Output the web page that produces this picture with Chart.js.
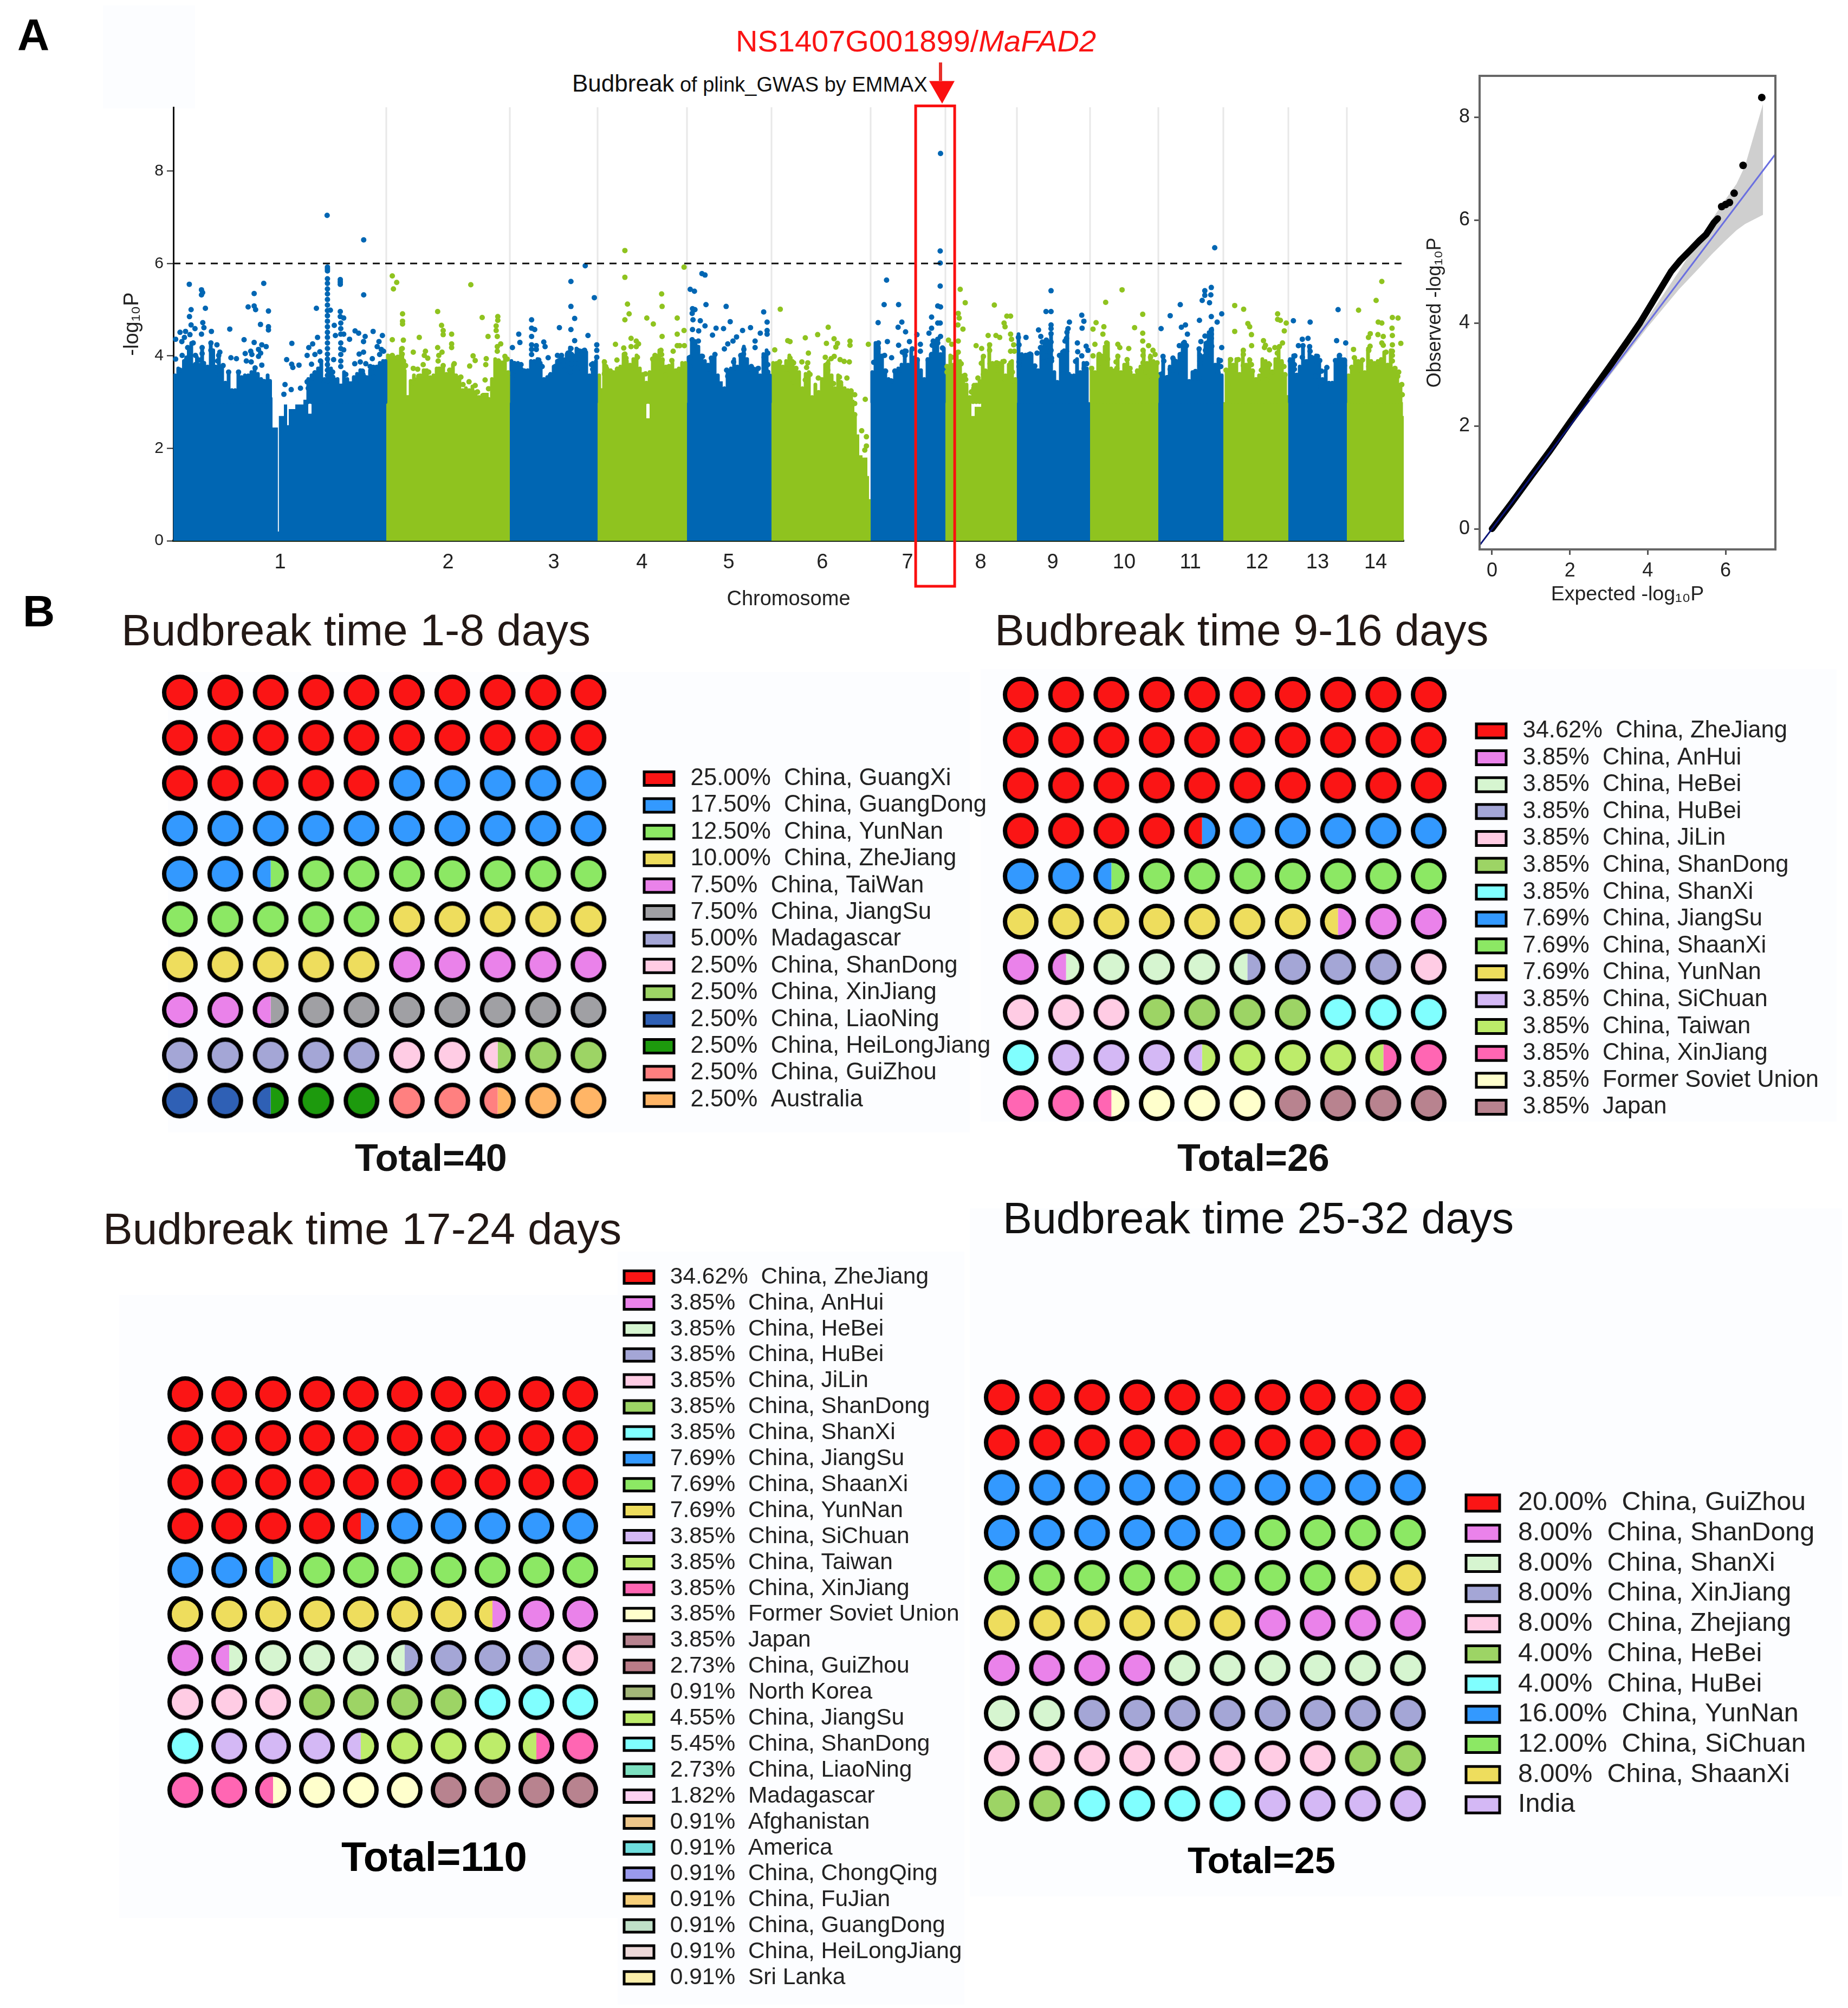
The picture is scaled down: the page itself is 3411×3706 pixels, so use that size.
<!DOCTYPE html>
<html>
<head>
<meta charset="utf-8">
<title>Budbreak GWAS</title>
<script src="https://cdn.jsdelivr.net/npm/chart.js@4"></script>
<style>
  html, body { margin: 0; background: #fff; }
  #page { position: relative; width: 3411px; height: 3706px; overflow: hidden; font-family: 'Liberation Sans', Arial, sans-serif; }
  canvas { position: absolute; }
  .patch { position: absolute; background: #fcfdff; }
  .t { position: absolute; white-space: pre; line-height: 1; color: #231815; }
  .big { font-size: 82px; }
  .head { font-size: 81.5px; }
  .total { font-weight: bold; color: #111; }
</style>
</head>
<body>
<div id="page">
  <div class="patch" style="left:190px;top:10px;width:170px;height:190px"></div>
  <div class="patch" style="left:310px;top:1240px;width:1480px;height:850px"></div>
  <div class="patch" style="left:1810px;top:1235px;width:1580px;height:835px"></div>
  <div class="patch" style="left:220px;top:2390px;width:920px;height:1150px"></div>
  <div class="patch" style="left:1140px;top:2310px;width:640px;height:1390px"></div>
  <div class="patch" style="left:1790px;top:2230px;width:1610px;height:1270px"></div>

  <div class="t big" style="left:32px;top:23px;font-weight:bold;color:#000">A</div>
  <div class="t big" style="left:42px;top:1087px;font-weight:bold;color:#000">B</div>
  <div class="t" style="left:1358px;top:48px;font-size:56px;color:#fa1414">NS1407G001899/<i>MaFAD2</i></div>
  <div class="t" style="left:1056px;top:132px;font-size:38px;color:#111"><span style="font-size:44px">Budbreak</span> of plink_GWAS by <span style="font-size:38px">EMMAX</span></div>

  <div class="t head" style="left:224px;top:1122px;font-size:82px">Budbreak time 1-8 days</div>
  <div class="t head" style="left:1836px;top:1122px;font-size:82px">Budbreak time 9-16 days</div>
  <div class="t head" style="left:190px;top:2227px;font-size:82px">Budbreak time 17-24 days</div>
  <div class="t head" style="left:1851px;top:2208px;font-size:80.8px;color:#111">Budbreak time 25-32 days</div>

  <div class="t total" style="left:655px;top:2102px;font-size:70px">Total=40</div>
  <div class="t total" style="left:2173px;top:2102px;font-size:70px">Total=26</div>
  <div class="t total" style="left:630px;top:3389px;font-size:76px;color:#000">Total=110</div>
  <div class="t total" style="left:2192px;top:3399px;font-size:68px;color:#000">Total=25</div>

  <canvas id="manhattan"></canvas>
  <canvas id="qq"></canvas>
  <canvas id="waffle1"></canvas>
  <canvas id="waffle2"></canvas>
  <canvas id="waffle3"></canvas>
  <canvas id="waffle4"></canvas>
</div>

<script>
// ---- Manhattan data, x is cumulative position along the genome, y is -log10P ----
const chrNames = ['1','2','3','4','5','6','7','8','9','10','11','12','13','14'];
const chrEnds = [131,207,261,316,368,429,475,519,564,606,646,686,722,757];
const chrCentres = [65.7,169,234,288.3,341.7,399.3,451.7,496.7,541,585,625.7,666.7,704,739.7];
const yTicks = [0,2,4,6,8];
const threshold = 6;

// top of the solid mass in each chromosome: x,y,x,y...
const top1 = [0,3.55, 6,3.3, 7,3.4, 10,3.35, 14,3.45, 18,3.45, 22,3.35, 25,3.4, 30,3.15, 32,3.1, 36,3.05, 40,3.3, 44,3.3, 48,3.45, 52,3.5, 56,3.45, 58,3.3, 60,3.1, 61,2.45, 64.3,0.2, 64.9,2.7, 68,2.95, 70,2.5, 71,2.85, 75,2.95, 80,3.05, 83,2.75, 85,3.1, 88,3.25, 92,3.3, 94,3.9, 96,3.4, 100,3.4, 105,3.45, 110,3.2, 115,3.4, 120,3.3, 125,3.45, 128,3.75];
const top2 = [131,3.5, 133,3.8, 137,3.7, 140,4, 142,3.7, 143.5,3.15, 145,3.2, 148,3.35, 152,3.55, 156,3.45, 160,3.6, 164,3.45, 167,3.55, 170,3.7, 173,3.5, 176,3.15, 180,3.2, 183,3.05, 187,3.1, 190,3.2, 194,3.05, 197,3.6, 200,3.9, 204,3.6];
const top3 = [207,3.5, 210,3.35, 213,3.35, 216,3.55, 220,3.6, 223,3.55, 226,3.3, 230,3.4, 233,3.35, 236,3.55, 240,3.6, 243,3.55, 246,3.55, 249,3.4, 253,3.4, 257,3.35, 260,3.7];
const top4 = [261,3.3, 265,3.1, 270,3.15, 275,3.3, 280,3.4, 284,3.45, 287,3.2, 290,3, 291,2.65, 293,3.35, 297,3.45, 300,3.5, 304,3.3, 308,3.2, 312,3.25];
const top5 = [316,3.3, 319,3.7, 322,3.85, 325,3.6, 328,3.35, 332,3.55, 335,3.45, 338,3.05, 340,3.2, 344,3.4, 348,3.4, 352,3.35, 356,3.2, 358,3.15, 362,3.3, 365,3.55];
const top6 = [368,3.1, 372,3.1, 376,3.25, 380,3.3, 384,3.15, 387,3, 392,3, 396,3.1, 400,3.15, 404,3.15, 407,3, 410,3.2, 414,3.2, 418,3.05, 419,2.7, 420.5,2.3, 422,1.85, 424,1.8, 427,1.4, 428,0.9];
const top7 = [429,3.5, 433,3.45, 437,3.3, 440,3.05, 444,3.15, 447,3.45, 451,3.4, 454,3.35, 456,3.55, 459,3.6, 461,3.15, 463,3.4, 466,3.55, 470,3.7, 473,3.65];
const top8 = [475,3, 480,3.4, 483,3.6, 486,3.25, 489,3, 491,2.7, 493,2.9, 497,3.2, 500,3.45, 504,3.55, 507,3.45, 510,3.35, 513,3.1, 516,3.2];
const top9 = [519,3.55, 523,3.65, 527,3.6, 530,3.25, 532,3.35, 535,3.5, 539,3.65, 541,3.6, 543,3.05, 545,3.3, 548,3.85, 550,3.65, 552,3.35, 556,3.4, 560,3.4, 563,3];
const top10 = [564,3.15, 568,3.3, 571,3.5, 575,3.45, 578,3.35, 581,3.35, 584,3.25, 587,3.25, 590,3.2, 593,3.25, 596,3.4, 600,3.2, 603,3.1];
const top11 = [606,3.35, 610,3.2, 614,3.4, 618,3.4, 621,3.3, 625,3, 628,3.1, 631,3.3, 634,3.55, 638,3.8, 641,3.4, 644,3.4];
const top12 = [646,3, 650,3.1, 653,3.25, 657,3.5, 662,3.55, 664,3.3, 667,3.1, 670,3.15, 674,3.05, 678,3.3, 681,3.15, 684,3.15];
const top13 = [686,3.1, 690,3.35, 693,3.4, 696,3.65, 700,3.55, 702,3.05, 704,3, 706,3, 708,3.25, 712,3.3, 716,3.2, 718,3.2, 720,3.4];
const top14 = [722,3.15, 726,3.3, 730,3.4, 734,3.35, 738,3.6, 742,3.55, 746,3.4, 750,3.65, 753,3.15, 755,3, 756.5,2.7];

// columns of overlapping SNPs rising out of the mass, read across each chromosome: x,top,x,top...
const teeth1 = [1,3.58,3,3.73,5,3.65,6.5,3.89,8,3.97,9.5,4.16,11,4.28,13,3.77,14.5,3.97,16,3.81,17.7,4.18,19,3.85,21,3.77,23,4.28,24.5,4.12,26,3.77,28,4.05,30,3.77,32,3.42,34,3.65,36,3.26,38,3.26,40,3.65,42,3.54,44,3.58,46,3.58,48,3.65,50,3.73,52,3.61,54,3.5,56,3.46,58,3.58,59.5,3.46,83,3.5,85,3.58,87,3.65,89,3.73,91,3.89,93,3.5,97,3.73,99,3.5,101,3.5,105,3.65,107,3.5,109,3.38,111,3.54,113,3.61,115,3.69,117,3.61,119,3.54,121,3.69,123,3.77,125,3.77,127,3.85,129,3.89,130.5,3.89];
const teeth2 = [132,4.01,134,4.01,136,3.97,138,3.93,140,4.16,142,3.89,146,3.46,148,3.58,150,3.5,152,3.58,154,3.69,156,3.69,158,3.54,160,3.58,162,3.73,164,3.73,166,3.77,168,3.61,170,3.69,172,3.81,174,3.58,176,3.54,178,3.26,180,3.3,182,3.26,184,3.34,186,3.22,188,3.11,190,3.15,192,3.15,194,3.07,196,3.5,198,3.93,200,3.89,202,3.81,204,3.93,206,3.65];
const teeth3 = [208,3.89,210,3.85,212,3.85,214,3.69,216,3.69,218,3.69,220,3.89,222,3.89,224,3.93,226,3.85,228,3.5,230,3.54,232,3.61,234,3.77,236,3.89,238,3.97,240,3.93,242,4.04,244,4.18,246,4.01,248,4.16,250,4.12,252,4.12,254,4.08,256,3.58,258,3.85,260,3.89];
const teeth4 = [262,3.58,265,3.89,267,3.73,269,3.69,271,3.65,273,3.73,275,3.77,277,4.04,279,3.89,281,3.81,283,3.93,285,4.01,287,3.73,289,3.61,291,3.42,293,3.65,295,3.93,297,4.01,299,4.12,301,3.93,303,3.77,305,3.77,307,3.85,309,3.69,311,3.73,313,3.85,315,3.85];
const teeth5 = [317,3.97,319,4.32,321,4.32,323,4.2,325,4.01,327,3.89,329,3.81,331,3.93,333,4.01,335,3.58,337,3.3,339,3.3,341,3.69,343,3.73,345,3.93,347,3.77,349,3.97,351,4.2,353,3.93,355,3.77,357,3.73,359,3.73,361,3.58,363,4.04,365,4.12,367,3.58];
const teeth6 = [369,3.85,371,3.85,373,3.89,375,3.77,377,3.89,379,4.01,381,3.89,383,3.73,385,3.65,387,3.3,389,3.61,391,3.65,393,3.11,395,3.38,397,3.22,399,3.5,401,3.81,403,3.89,405,3.58,407,3.3,409,3.58,411,3.38,413,3.3,415,3.26,417,3.26];
const teeth7 = [430,3.65,432,4.28,434,4.2,436,4.01,438,3.69,440,3.5,442,3.46,444,3.69,446,3.73,448,3.81,450,4.12,452,3.81,454,4.12,456,3.97,458,3.93,460,3.69,462,3.5,464,3.93,466,4.01,468,4.28,470,4.36,472,4.04,474,4.16];
const teeth8 = [476,3.77,478,4.01,480,3.81,482,4.08,484,3.89,486,3.58,488,3.38,490,3.11,492,3.3,494,3.38,496,3.46,498,3.97,500,3.65,502,4.2,504,3.85,506,3.85,508,3.85,510,3.89,512,3.58,514,3.81,516,3.89,518,3.5];
const teeth9 = [520,4.47,522,4.04,524,4.01,526,4.04,528,4.04,530,3.77,532,3.69,534,4.2,536,4.28,538,4.32,540,4.47,542,3.65,544,3.42,546,4.01,548,4.12,550,4.59,552,3.58,554,3.58,556,3.93,558,3.65,560,3.85,562,3.73];
const teeth10 = [565,3.69,567,3.65,569,4.01,571,4.01,573,4.2,575,4.28,577,3.73,579,3.69,581,4.01,583,3.65,585,3.81,587,3.85,589,3.65,591,3.58,593,3.69,595,3.77,597,4.12,599,3.85,601,4.01,603,3.89,605,3.85];
const teeth11 = [607,3.61,609,3.97,611,3.54,613,3.77,615,3.97,617,3.89,619,4.04,621,4.28,623,4.24,625,3.46,627,3.65,629,3.65,631,4.16,633,3.97,635,4.28,637,4.51,639,4.59,641,3.81,643,3.93,645,3.58];
const teeth12 = [648,3.69,650,3.93,652,3.81,654,3.93,656,3.61,658,4.12,660,3.81,662,3.93,664,3.69,666,3.5,668,3.58,670,3.93,672,3.89,674,3.85,676,3.65,678,3.93,680,4.2,682,3.89,684,3.61];
const teeth13 = [687,3.93,689,4.01,691,3.58,693,3.77,695,4.22,697,3.89,699,4.2,701,3.97,703,4.01,705,3.89,707,3.5,709,3.69,711,3.42,713,3.42,715,3.89,717,4.01,719,3.93,721,3.89];
const teeth14 = [723,3.58,725,3.77,727,3.97,729,3.89,731,3.89,733,3.65,735,4.16,737,3.89,739,3.85,741,3.89,743,3.93,745,4.08,747,3.81,749,4.12,751,3.73,753,3.65,755,3.38];

// single SNPs above the solid mass: x,y,x,y...
const dots1 = [9.8,5.55,17.3,5.43,18,5.37,17.3,5.32,10.9,5,19.7,5.03,9.9,4.85,18.1,4.72,10.9,4.67,18.8,4.61,13.3,4.59,23.4,4.53,17.3,4.47,4.1,4.51,7.5,4.53,1.4,4.36,5.2,4.31,10.2,4.46,6.8,4.4,34.7,4.58,43.5,4.35,49.7,5.35,55.6,5.57,46,5.06,49.7,5.08,50.6,5,58.5,4.97,53.6,4.68,58.5,4.63,58.5,4.56,49.7,4.29,54.4,4.24,57.1,4.2,52.4,4.14,44.2,4.05,47.6,4.1,48.3,4.03,53.7,4.06,52.4,3.99,35.4,3.96,38.8,3.94,44.9,3.89,47.9,3.87,54.4,3.8,50.3,3.74,34,3.65,40.1,3.65,23.1,4.28,26.8,4.24,12.2,4.28,8.8,4.18,17.7,4.18,23.1,4.12,28.6,4.08,5.4,4.01,13.6,4.01,17.7,4.05,27.9,4.01,23.8,3.93,8.2,3.93,1.4,3.93,16.3,3.91,27.2,3.89,30.6,3.79,4.1,3.69,24.5,3.77,10.9,3.77,20.4,3.73,13.6,3.81,28.6,3.58,68.7,3.38,72.5,3.27,78.2,3.3,68,3.17,69.7,3.92,72.8,3.82,73.5,3.75,77.3,3.8,72.9,4.27,83.3,4.18,85.7,4.26,88.7,4.4,88,5.03,82.3,4.01,87.1,4.03,90.1,4.09,85,3.82,90.5,3.89,89.8,3.71,87.1,3.63,82.3,3.44,90.5,3.49,86.4,3.52,83,3.3,94.6,7.04,94.8,5.92,94.8,5.88,94.8,5.84,94.8,5.67,94.8,5.57,94.8,5.45,94.8,5.34,94.8,5.22,94.8,5.1,94.8,4.98,94.8,4.87,94.8,4.75,94.8,4.63,94.8,4.51,94.8,4.4,94.8,4.28,94.8,4.16,94.8,4.04,94.8,3.93,94.8,3.81,94.8,3.69,94.8,3.58,94.8,3.46,117.1,6.51,117.1,5.32,102.7,5.65,102.7,5.6,102.7,5.55,102.7,4.96,102.7,4.85,104.8,4.82,96.6,4.99,99,4.66,103,4.71,103,4.59,103,4.47,99.7,4.44,104.8,4.47,108.4,4.36,111.8,4.54,114,4.49,118,4.42,117,4.31,122.9,4.53,128.6,4.44,126.5,4.31,125.4,4.2,127.9,4.14,129.3,4.1,103,4.28,103,4.16,104.8,4.13,103,4.03,117,4.08,114.3,4.04,126.9,4.03,122.4,3.94,98.6,3.92,103,3.89,115,3.87,111.6,3.83,118.4,3.83,121.1,3.77,103,3.77,98,3.65,116.3,3.67,123.1,3.75,127.2,3.79,106.1,3.6,111.6,3.52,117,3.56,119.7,3.48,123.1,3.54,106.1,3.42,112.2,3.4,98,3.54];
const dots2 = [134.7,5.73,137.4,5.59,135.4,5.45,183,5.54,162.6,4.96,141,4.91,141,4.75,141,4.69,190,4.83,199.6,4.85,199.6,4.77,165,4.66,166,4.55,166,4.46,198.6,4.65,198.6,4.55,171.2,4.47,193.6,4.42,199.3,4.42,151.3,4.4,134.7,4.35,141.5,4.34,171.2,4.26,171.2,4.18,201.4,4.26,199.3,4.2,199.3,4.1,162.6,4.18,147.6,4.08,155.1,4.1,154.4,4.01,156.5,3.95,165.3,4.08,163.3,4.01,162.9,3.89,184.4,4,185.7,3.9,192.5,3.94,192.2,3.81,182.3,3.78,172.8,3.83,153.7,3.81,147.6,3.73,150.3,3.71,155.1,3.67,157.1,3.65,166,3.79,163.3,3.71,191.8,3.48,181.9,3.44,176.9,3.54,178.2,3.38,193.9,3.29,187.1,3.22,185.7,3.36,191.8,3.14,204,3.99,140.8,4.16,140.8,4.04,134.7,4.01,138.1,3.97,141.5,3.89,142.9,3.79,200,3.89,202.7,3.81,205.4,3.93,147.6,3.42,151,3.56,155,3.58,159.2,3.5,166,3.58,170,3.69,172.1,3.58];
const dots3 = [253.4,5.95,244.6,5.61,259,5.26,244.6,5.07,220.4,4.78,246.9,4.81,220.4,4.6,222.3,4.57,237.5,4.61,244.6,4.57,212.5,4.47,220.4,4.42,255.1,4.44,213.2,4.29,246.9,4.33,208.6,4.18,227.9,4.3,228.7,4.2,220.4,4.24,223.3,4.22,220.4,4.14,223.3,4.14,220.4,4.03,260.5,4.24,260.5,4.12,260.5,3.97,230.6,3.96,236.3,4.01,238.8,4.01,244.6,4.16,242.8,4.06,248.6,4.12,253,4.12,253.2,4.03,245,4.03,248.6,3.93,240,3.89,237,3.89,224.8,3.91,221.2,3.81,226.9,3.77,209.6,3.83,213.9,3.81,234.9,3.77,245,3.83,249.3,3.83,257.3,3.81,251.5,3.69,258,3.71,232,3.58,240.7,3.69,213.9,3.71,208.9,3.58,244.3,3.65];
const dots4 = [277.8,6.28,277.8,5.7,314.2,5.92,300.4,5.34,279.4,5.12,300.7,5.07,280.4,4.91,277.8,4.78,291.3,4.82,295.3,4.69,310,4.82,314.2,4.55,310,4.47,300.7,4.42,281.6,4.38,284.8,4.32,286.2,4.26,272,4.25,281.6,4.2,284.8,4.2,277.1,4.17,310,4.22,314.4,4.22,311.5,4.22,307.5,4.1,300,4.12,300.4,4.03,296.3,4.01,277.8,4.04,278.5,3.95,285.5,3.97,272.9,3.91,265.2,3.87,266,3.77,300.7,3.91,306.7,3.9,294.9,3.93,268.9,3.67,265.2,3.61,273.2,3.71,277.5,3.81,281.9,3.73,290.5,3.61,297.8,3.73,305,3.77,310.8,3.69,314.4,3.79,302.8,3.58];
const dots5 = [325.2,5.78,327.1,5.75,318,5.44,320.6,5.4,327.7,5.11,340.1,5.07,319.4,5.02,320.9,5,319.2,4.92,363.2,4.95,319.7,4.78,324.2,4.76,342.6,4.74,365.3,4.73,327.1,4.65,333.9,4.6,338.5,4.59,355.1,4.61,319.4,4.57,323.2,4.54,350.2,4.55,365.3,4.55,365.3,4.47,361.1,4.49,331.7,4.45,346.5,4.41,344.3,4.32,341.1,4.26,339,4.15,357.9,4.32,357.9,4.18,319.2,4.35,323,4.32,320.9,4.24,322.4,4.12,351,4.14,350.8,4.04,333.2,4.03,331,3.95,325.5,3.99,318,3.97,349.1,4.01,365.7,4.06,363.5,3.97,344.7,3.87,352,3.91,330.3,3.77,355.6,3.77,359.9,3.73,365.7,3.81,340.4,3.69,345.5,3.75,351.2,3.81,365.7,3.65,329.6,3.61,362.1,3.54,341.1,3.56,326,3.79,318,3.77,354.1,3.61];
const dots6 = [373.4,5.01,402.9,4.62,396.4,4.46,388.8,4.39,378,4.33,379.4,4.31,406.5,4.37,401.8,4.27,408.6,4.27,407.6,4.19,416.3,4.32,416.3,4.23,427.6,4.25,370,4.13,390.7,4.06,401.1,3.97,406.6,3.99,404.7,3.94,379.4,3.95,410.2,3.92,412.7,3.88,415.9,3.87,381.6,3.85,386.7,3.87,390.3,3.85,373,3.87,370.8,3.79,402.6,3.83,383,3.73,389.6,3.75,377.3,3.71,402.6,3.69,371.5,3.56,378,3.61,391.7,3.6,396.8,3.52,409.8,3.54,414.4,3.52,388.8,3.48,410.5,3.42,401.1,3.5,406.2,3.4,381.6,3.44,417,3.24,419.2,3.16,419.2,2.97,419.2,2.73,425.7,3.06,423.5,2.38,426.4,2.25,426.4,2.05,425.4,1.96];
const dots7 = [472,8.38,471.8,6.27,471.8,6.01,471.8,5.51,470.3,5.08,472,5.06,466.5,4.84,470.3,4.71,471.8,4.71,466.5,4.6,464.9,4.49,472,4.42,470.3,4.36,438.8,5.64,437.3,5.11,446.2,5.11,433.6,4.72,448.2,4.73,445.9,4.62,450.5,4.52,457.5,4.46,439.3,4.31,433.8,4.28,446.2,4.23,452.9,4.31,433.6,4.16,433.6,4.01,437.6,4.01,441.9,3.96,448.5,4.08,450.8,4.1,450.2,4.01,454.6,4.15,459.6,4.25,459.6,4.1,454.8,3.91,457.7,3.91,464.4,3.91,430.9,3.86,434.3,3.77,453.3,3.76,448.9,3.77,443.9,3.67,438.2,3.67,447.9,3.69,430.7,3.61,466.5,4.03,466.9,4.23,467.5,4.32,470.3,4.28,473.2,4.17,441.6,3.46];
const dots8 = [484.1,5.44,487.2,5.15,505.1,5.1,482.9,4.92,483.5,4.82,512.8,4.86,515.1,4.86,482.7,4.67,511.1,4.71,511.7,4.63,485.8,4.58,501.3,4.44,506.1,4.44,508.4,4.4,515.1,4.47,515.7,4.36,476.9,4.34,482.9,4.32,478.9,4.25,493.9,4.22,497.3,4.16,502.2,4.24,502.2,4.12,517,4.24,482.9,4.08,515.1,4.1,517.4,4.1,498.4,3.99,478.9,3.97,511.1,3.88,497.1,3.84,484.7,3.83,502.5,3.83,506.5,3.85,515.3,3.85,482.9,3.77,478.9,3.73,476,3.77,476,3.65,499.6,3.67,509.4,3.77,516.2,3.65,487,3.58,487.5,3.49,495,3.52,511.4,3.5,516.8,3.46,477.2,3.5,492.7,3.36,491,3.22,507,3.69,498.4,3.6];
const dots9 = [540,5.41,536.9,4.96,540,4.96,558.9,4.88,551.3,4.73,560.2,4.75,540,4.67,540,4.59,550.5,4.59,559.1,4.6,532.3,4.56,540,4.48,549.8,4.51,524.6,4.4,533.7,4.42,519.9,4.4,549.5,4.38,548.6,4.32,520.3,4.24,537.1,4.34,540,4.3,534.6,4.3,556.2,4.28,561.6,4.21,533.5,4.18,536.9,4.15,540,4.12,549.5,4.1,547.2,4.08,556.4,4.09,562.7,4.12,531.4,4.06,527.1,4.04,524.3,4.01,521.4,3.99,537.1,4,540.3,3.95,545.2,4.01,558.9,4,520.3,3.87,535.5,3.87,540.3,3.89,555.1,3.88,561.9,3.83,520.3,3.77,530,3.78,547.2,3.79,560.4,3.73,547.2,3.61,543.8,3.42];
const dots10 = [583.7,5.43,573.6,5.16,596.4,4.9,567.7,4.72,572.5,4.63,565.8,4.58,591.4,4.61,596.4,4.49,571.9,4.47,567,4.25,596.4,4.32,581.1,4.25,582.3,4.18,587.8,4.16,600,4.22,574.2,4.28,602.7,4.12,596.6,4.12,604,4.03,565.8,4,569.6,4.03,581.1,3.99,586.8,3.92,596.6,4.01,601.2,3.97,574.8,3.93,580,3.87,570.2,3.85,585.7,3.79,596.6,3.85,599.5,3.79,605.2,3.85,565,3.73,580.5,3.73,588.6,3.73,593.2,3.67,598.3,3.65,584,3.61,568,3.61,605.2,3.56,601.8,3.48];
const dots11 = [640.7,6.34,638.6,5.48,634.6,5.41,638.3,5.32,634.6,5.31,633,5.2,637.5,5.15,619.5,5.11,613.3,4.87,645,4.91,638.6,4.85,631.3,4.77,642.2,4.73,622.7,4.67,620.2,4.62,607.7,4.59,638.6,4.56,638.6,4.47,623.9,4.47,634.7,4.43,638.6,4.38,632.2,4.31,636.1,4.28,622,4.29,618.9,4.22,623.3,4.22,621.6,4.16,638.9,4.21,645,4.18,631.1,4.15,635,4.12,619.7,4.03,608.9,3.99,615,3.95,621.1,3.93,631.6,4.01,638.3,4.01,634.4,3.99,609.4,3.89,616.1,3.89,644.2,3.9,631.6,3.89,619.7,3.77,642.2,3.79,644.4,3.77,631.6,3.79,613.3,3.71,615,3.69,622,3.67,628.9,3.66,608.3,3.61,642.8,3.63,620,3.61,611.6,3.53,631.1,3.52,628.3,3.42];
const dots12 = [653,5.09,658.5,5.01,679.4,4.91,661.1,4.7,662.2,4.63,679.4,4.79,681.1,4.77,684.7,4.71,653,4.53,683.5,4.54,663.3,4.46,670.7,4.33,682.4,4.28,663.4,4.22,671.9,4.23,671.3,4.18,677.7,4.18,680.5,4.2,674.4,4.13,679.2,4.06,658.3,4.12,658.3,4.03,650.5,3.92,655.2,3.92,662.2,3.91,671.1,3.86,678.9,3.89,681.6,3.85,674.4,3.81,652.2,3.79,658.3,3.79,663.3,3.81,683.3,3.77,647.7,3.69,663.9,3.67,669.4,3.69,653.3,3.61,670,3.58,676.1,3.65,683.9,3.59,667.2,3.48,672.7,3.48,648.9,3.38,683.3,3.48];
const dots13 = [716.6,5,689.1,4.76,699.4,4.73,694.6,4.36,698.1,4.38,715.7,4.33,721.3,4.28,692.2,4.22,695,4.22,699.1,4.2,699.4,4.1,690,4,694.6,3.97,700,3.97,703.9,3.99,717.5,4.01,687.2,3.89,697.8,3.87,701.1,3.89,705.3,3.9,715,3.9,720.5,3.91,689.7,3.81,709.7,3.75,717.7,3.74,720.5,3.79,689.7,3.71,706.4,3.67,720,3.61,691.1,3.58,702.7,3.56,706.6,3.44,706.1,3.32];
const dots14 = [743.5,5.61,740,5.2,729.2,4.99,750,4.83,753.5,4.82,741.3,4.73,743.5,4.71,749.8,4.6,736.4,4.48,741.1,4.46,744.4,4.42,750,4.44,735.3,4.4,743.5,4.28,744.4,4.23,750,4.24,755.2,4.27,736.3,4.21,735.5,4.12,726.1,4.14,746.1,4.08,750,4.1,750,4.01,726.6,3.96,731.6,3.91,728.9,3.85,736.6,3.87,743.3,3.91,750,3.89,725,3.75,729.7,3.7,735.5,3.77,747.2,3.79,751.6,3.73,753.9,3.65,753.3,3.56,755.8,3.38,756.1,3.16,741.1,3.85];

// ---- QQ plot data ----
const qqExpected = [0,0.5,1,1.5,2,2.5,3,3.5,3.8,4.2,4.6,4.84,5.1,5.33,5.5,5.7,5.8];
const qqObserved = [0,0.5,1.02,1.53,2.07,2.6,3.13,3.67,4,4.5,5,5.22,5.42,5.6,5.72,5.95,6.03];
const qqTailX = [5.9,6,6.1,6.22,6.45,6.93];
const qqTailY = [6.26,6.3,6.34,6.52,7.06,8.38];
const ribbonX = [0,3,4,4.8,5.3,5.64,6,6.28,6.5,6.96];
const ribbonUpper = [0,3.05,4.1,5,5.6,6,6.4,6.7,7.05,8.25];
const ribbonLower = [0,2.95,3.92,4.65,5.05,5.33,5.6,5.8,5.92,6.1];
const qqTicksX = [0,2,4,6];
const qqTicksY = [0,2,4,6,8];

// ---- waffle data, counts are cells out of 100 ----
const labels1 = ['25.00%  China, GuangXi','17.50%  China, GuangDong','12.50%  China, YunNan','10.00%  China, ZheJiang','7.50%  China, TaiWan','7.50%  China, JiangSu','5.00%  Madagascar','2.50%  China, ShanDong','2.50%  China, XinJiang','2.50%  China, LiaoNing','2.50%  China, HeiLongJiang','2.50%  China, GuiZhou','2.50%  Australia'];
const counts1 = [25,17.5,12.5,10,7.5,7.5,5,2.5,2.5,2.5,2.5,2.5,2.5];
const order1 = [0,1,2,3,4,5,6,7,8,9,10,11,12];
const colors1 = ['#fb1515','#3399ff','#8ce864','#eedd5d','#ea82ea','#a0a0a4','#a4a6d6','#ffcce4','#9dd465','#2f60b5','#1d9a0d','#ff8080','#ffb566'];

const labels2 = ['34.62%  China, ZheJiang','3.85%  China, AnHui','3.85%  China, HeBei','3.85%  China, HuBei','3.85%  China, JiLin','3.85%  China, ShanDong','3.85%  China, ShanXi','7.69%  China, JiangSu','7.69%  China, ShaanXi','7.69%  China, YunNan','3.85%  China, SiChuan','3.85%  China, Taiwan','3.85%  China, XinJiang','3.85%  Former Soviet Union','3.85%  Japan'];
const counts2 = [34.5,4,4,3.5,4,4,4,8,7.5,7.5,3.5,4,4,3.5,4];
const order2 = [0,7,8,9,1,2,3,4,5,6,10,11,12,13,14];
const colors2 = ['#fb1515','#ea82ea','#d6f5d0','#a4a6d6','#ffcce4','#9dd465','#80ffff','#3399ff','#8ce864','#eedd5d','#d4b8f5','#bdec6a','#ff66b3','#ffffcc','#b8838f'];

const labels3 = labels2.concat(['2.73%  China, GuiZhou','0.91%  North Korea','4.55%  China, JiangSu','5.45%  China, ShanDong','2.73%  China, LiaoNing','1.82%  Madagascar','0.91%  Afghanistan','0.91%  America','0.91%  China, ChongQing','0.91%  China, FuJian','0.91%  China, GuangDong','0.91%  China, HeiLongJiang','0.91%  Sri Lanka']);
const counts3 = counts2.concat([0,0,0,0,0,0,0,0,0,0,0,0,0]);
const order3 = order2;
const colors3 = colors2.concat(['#ba7c88','#a3b678','#bdec6a','#80ffff','#7de0c0','#fcd0f0','#edc68a','#6fdede','#9a9aed','#f7cf7a','#c0e0c8','#ecd8d8','#fbeeaa']);

const labels4 = ['20.00%  China, GuiZhou','8.00%  China, ShanDong','8.00%  China, ShanXi','8.00%  China, XinJiang','8.00%  China, Zhejiang','4.00%  China, HeBei','4.00%  China, HuBei','16.00%  China, YunNan','12.00%  China, SiChuan','8.00%  China, ShaanXi','India'];
const counts4 = [20,8,8,8,8,4,4,16,12,8,4];
const order4 = [0,7,8,9,1,2,3,4,5,6,10];
const colors4 = ['#fb1515','#ea82ea','#d6f5d0','#a4a6d6','#ffcce4','#9dd465','#80ffff','#3399ff','#8ce864','#eedd5d','#d4b8f5'];

// ---- drawing ----
const BLUE = '#0066b3', GREEN = '#8fc31f';
Chart.defaults.font.family = "'Liberation Sans', Arial, sans-serif";
Chart.defaults.animation = false;
Chart.defaults.responsive = false;
Chart.defaults.devicePixelRatio = 1;
Chart.defaults.layout.autoPadding = false;
Chart.defaults.plugins.legend.display = false;
Chart.defaults.plugins.tooltip.enabled = false;

function place(id, left, top, width, height) {
  const c = document.getElementById(id);
  c.width = width; c.height = height;
  c.style.left = left + 'px'; c.style.top = top + 'px';
  return c;
}
function toXY(flat) {
  const out = [];
  for (let i = 0; i < flat.length; i += 2) out.push({ x: flat[i], y: flat[i + 1] });
  return out;
}
function zipXY(xs, ys) { return xs.map((x, i) => ({ x, y: ys[i] })); }

const allTops = [top1,top2,top3,top4,top5,top6,top7,top8,top9,top10,top11,top12,top13,top14];
const allTeeth = [teeth1,teeth2,teeth3,teeth4,teeth5,teeth6,teeth7,teeth8,teeth9,teeth10,teeth11,teeth12,teeth13,teeth14];
const allDots = [dots1,dots2,dots3,dots4,dots5,dots6,dots7,dots8,dots9,dots10,dots11,dots12,dots13,dots14];

const manhattanSets = [];
manhattanSets.push({ // threshold
  type: 'line', data: [{ x: 0, y: threshold }, { x: chrEnds[13], y: threshold }], order: 0,
  borderColor: '#111', borderWidth: 3, borderDash: [13, 10], pointRadius: 0, fill: false
});
allDots.forEach((d, i) => manhattanSets.push({
  data: toXY(d), order: 1, pointRadius: 5, pointBorderWidth: 0,
  pointBackgroundColor: i % 2 ? GREEN : BLUE, clip: false
}));
allTeeth.forEach((t, i) => manhattanSets.push({
  type: 'line', order: 1, pointRadius: 0, borderWidth: 7, borderCapStyle: 'round', fill: false, spanGaps: false,
  borderColor: i % 2 ? GREEN : BLUE,
  data: toXY(t).flatMap(p => [{ x: p.x, y: 3 }, p, { x: p.x, y: null }])
}));
allTops.forEach((t, i) => {
  const pts = toXY(t);
  pts.push({ x: chrEnds[i], y: pts[pts.length - 1].y });
  manhattanSets.push({
    type: 'line', data: pts, order: 2, stepped: true, fill: 'origin', pointRadius: 0, borderWidth: 0,
    backgroundColor: i % 2 ? GREEN : BLUE
  });
});
manhattanSets.push({ // chromosome separators
  type: 'line', order: 3, pointRadius: 0, borderWidth: 3, borderColor: '#e8e8e8', fill: false, spanGaps: false,
  data: chrEnds.slice(0, 13).flatMap(x => [{ x, y: 0 }, { x, y: 9.38 }, { x, y: null }])
});

// red box and arrow round the hit on chromosome 7, given in data units
const hitMark = {
  id: 'hitMark',
  afterDraw(chart) {
    const { ctx, scales: { x, y } } = chart;
    const x0 = x.getPixelForValue(456.7), x1 = x.getPixelForValue(480.7);
    const y0 = y.getPixelForValue(9.41), y1 = y.getPixelForValue(-0.985);
    ctx.save();
    ctx.strokeStyle = '#fa0f0f'; ctx.lineWidth = 5;
    ctx.strokeRect(x0, y0, x1 - x0, y1 - y0);
    const ax = x.getPixelForValue(472);
    ctx.strokeStyle = '#e8302a'; ctx.lineWidth = 6;
    ctx.beginPath(); ctx.moveTo(ax, y.getPixelForValue(10.35)); ctx.lineTo(ax, y.getPixelForValue(9.95)); ctx.stroke();
    ctx.fillStyle = '#fa0f0f';
    ctx.beginPath();
    ctx.moveTo(ax - 21, y.getPixelForValue(9.95));
    ctx.lineTo(ax + 26, y.getPixelForValue(9.95));
    ctx.lineTo(ax + 3, y.getPixelForValue(9.46));
    ctx.closePath(); ctx.fill();
    ctx.restore();
  }
};

new Chart(place('manhattan', 0, 0, 2620, 1150), {
  type: 'scatter',
  data: { datasets: manhattanSets },
  plugins: [hitMark],
  options: {
    layout: { padding: { top: 198, right: 29 } },
    scales: {
      x: {
        type: 'linear', min: 0, max: chrEnds[13],
        afterBuildTicks: s => { s.ticks = chrCentres.map(v => ({ value: v })); },
        afterFit: s => { s.height = 152; },
        grid: { display: false },
        border: { display: true, color: '#1c2b18', width: 4 },
        ticks: { autoSkip: false, maxRotation: 0, color: '#222', padding: 10, font: { size: 38 }, callback: (v, i) => chrNames[i] },
        title: { display: true, text: 'Chromosome', color: '#222', font: { size: 38 }, padding: { bottom: 21 } }
      },
      y: {
        min: 0, max: 9.38,
        afterBuildTicks: s => { s.ticks = yTicks.map(v => ({ value: v })); },
        afterFit: s => { s.width = 320; },
        grid: { display: true, drawOnChartArea: false, tickLength: 12, tickColor: '#222', tickWidth: 2 },
        border: { display: true, color: '#111', width: 3 },
        ticks: { color: '#222', padding: 6, font: { size: 30 }, callback: v => String(v) },
        title: { display: true, text: '-log₁₀P', color: '#222', font: { size: 38 }, padding: { top: 222 } }
      }
    }
  }
});

// frame round the QQ plot
const qqFrame = {
  id: 'qqFrame',
  afterDatasetsDraw(chart) {
    const { ctx, chartArea: a } = chart;
    ctx.save(); ctx.strokeStyle = '#666'; ctx.lineWidth = 4;
    ctx.strokeRect(a.left, a.top, a.right - a.left, a.bottom - a.top);
    ctx.restore();
  }
};

new Chart(place('qq', 2620, 100, 791, 1050), {
  type: 'scatter',
  plugins: [qqFrame],
  data: { datasets: [
    { type: 'line', data: [{ x: -0.32, y: -0.32 }, { x: 2.5, y: 2.5 }, { x: 7.28, y: 7.28 }], order: 0, pointRadius: 0, borderWidth: 3,
      borderColor: '#6a6fe0', segment: { borderColor: c => c.p0.parsed.x < 2 ? '#0a1478' : '#6a6fe0' } },
    { data: zipXY(qqTailX, qqTailY), order: 1, pointRadius: 7, pointBorderWidth: 0, pointBackgroundColor: '#000' },
    { type: 'line', data: zipXY(qqExpected, qqObserved), order: 1, pointRadius: 0, borderWidth: 12, borderColor: '#000', borderCapStyle: 'round', borderJoinStyle: 'round', fill: false },
    { type: 'line', data: zipXY(ribbonX, ribbonUpper), order: 2, pointRadius: 0, borderWidth: 0, fill: '+1', backgroundColor: '#cfcfcf' },
    { type: 'line', data: zipXY(ribbonX, ribbonLower), order: 3, pointRadius: 0, borderWidth: 0, fill: false }
  ] },
  options: {
    layout: { padding: { top: 40, right: 134 } },
    scales: {
      x: {
        type: 'linear', min: -0.32, max: 7.28,
        afterBuildTicks: s => { s.ticks = qqTicksX.map(v => ({ value: v })); },
        afterFit: s => { s.height = 136; },
        grid: { display: true, drawOnChartArea: false, tickLength: 10, tickColor: '#555', tickWidth: 3 },
        border: { display: false },
        ticks: { color: '#222', padding: 8, font: { size: 36 }, callback: v => String(v) },
        title: { display: true, text: 'Expected -log₁₀P', color: '#222', font: { size: 37.5 }, padding: { bottom: 30 } }
      },
      y: {
        min: -0.4, max: 8.8,
        afterBuildTicks: s => { s.ticks = qqTicksY.map(v => ({ value: v })); },
        afterFit: s => { s.width = 111; },
        grid: { display: true, drawOnChartArea: false, tickLength: 10, tickColor: '#555', tickWidth: 3 },
        border: { display: false },
        ticks: { color: '#222', padding: 8, font: { size: 36 }, callback: v => String(v) },
        title: { display: true, text: 'Observed -log₁₀P', color: '#222', font: { size: 36 }, padding: { top: 7 } }
      }
    }
  }
});

// walk the counts in half cells, row by row, so a category can end half way through a dot
function buildCells(counts, order) {
  const cells = counts.map(() => []);
  let h = 0;
  order.forEach(idx => {
    let n = counts[idx] * 2;
    while (n > 0) {
      const cell = Math.floor(h / 2);
      const p = { x: cell % 10 + 1, y: Math.floor(cell / 10) + 1 };
      if (h % 2 === 0 && n >= 2) { p.part = 'full'; h += 2; n -= 2; }
      else { p.part = h % 2 === 0 ? 'left' : 'right'; h += 1; n -= 1; }
      cells[idx].push(p);
    }
  });
  return cells;
}

const sprites = {};
function dotSprite(color, part, d) {
  const key = color + part + d;
  if (sprites[key]) return sprites[key];
  const s = document.createElement('canvas');
  s.width = s.height = d + 2;
  const c = s.getContext('2d'), m = s.width / 2, ring = 8, r = d / 2 - ring / 2;
  c.save();
  if (part === 'left') { c.beginPath(); c.rect(0, 0, m, s.height); c.clip(); }
  if (part === 'right') { c.beginPath(); c.rect(m, 0, m, s.height); c.clip(); }
  c.beginPath(); c.arc(m, m, r, 0, Math.PI * 2); c.fillStyle = color; c.fill();
  c.restore();
  c.beginPath(); c.arc(m, m, r, 0, Math.PI * 2); c.strokeStyle = '#000'; c.lineWidth = ring; c.stroke();
  sprites[key] = s;
  return s;
}

function waffle(id, labels, counts, order, colors, p) {
  const cells = buildCells(counts, order);
  const xMin = 1 - (p.firstX - p.left) / p.pitchX;
  const yMin = 1 - (p.firstY - p.top) / p.pitchY;
  const gap = p.rowPitch - p.font;
  new Chart(place(id, p.left, p.top, p.width, p.height), {
    type: 'scatter',
    data: { datasets: labels.map((label, i) => ({
      label: '\u2009' + label,
      data: cells[i],
      backgroundColor: colors[i], borderColor: '#000', borderWidth: 5,
      pointStyle: ctx => ctx.raw ? dotSprite(colors[i], ctx.raw.part, 66) : 'circle'
    })) },
    plugins: [{
      id: 'legendPlace',
      afterLayout(chart) {
        const l = chart.legend;
        l.left = p.legendX - p.left - gap;
        l.top = p.legendY - p.top - gap - p.font / 2;
        l.right = p.width; l.bottom = p.height;
      }
    }],
    options: {
      scales: {
        x: { type: 'linear', display: false, min: xMin, max: xMin + p.width / p.pitchX },
        y: { type: 'linear', display: false, reverse: true, min: yMin, max: yMin + p.height / p.pitchY }
      },
      plugins: { legend: {
        display: true, position: 'chartArea', align: 'start',
        labels: { boxWidth: p.boxW, boxHeight: p.boxH, padding: gap, color: '#222', font: { size: p.font } }
      } }
    }
  });
}

waffle('waffle1', labels1, counts1, order1, colors1, { left: 200, top: 1220, width: 1650, height: 950, firstX: 332, firstY: 1278, pitchX: 83.8, pitchY: 83.7, legendX: 1189, legendY: 1437, font: 43.7, rowPitch: 49.4, boxW: 55, boxH: 25 });
waffle('waffle2', labels2, counts2, order2, colors2, { left: 1800, top: 1220, width: 1611, height: 950, firstX: 1884, firstY: 1282, pitchX: 83.67, pitchY: 83.78, legendX: 2725, legendY: 1349, font: 43.5, rowPitch: 49.6, boxW: 55, boxH: 26 });
waffle('waffle3', labels3, counts3, order3, colors3, { left: 200, top: 2300, width: 1650, height: 1406, firstX: 342, firstY: 2573, pitchX: 81, pitchY: 81.2, legendX: 1152, legendY: 2357, font: 42.5, rowPitch: 47.9, boxW: 55, boxH: 23 });
waffle('waffle4', labels4, counts4, order4, colors4, { left: 1780, top: 2300, width: 1631, height: 1200, firstX: 1849, firstY: 2579, pitchX: 83.3, pitchY: 83.3, legendX: 2706, legendY: 2774, font: 48.5, rowPitch: 55.7, boxW: 62, boxH: 30 });
</script>
</body>
</html>
